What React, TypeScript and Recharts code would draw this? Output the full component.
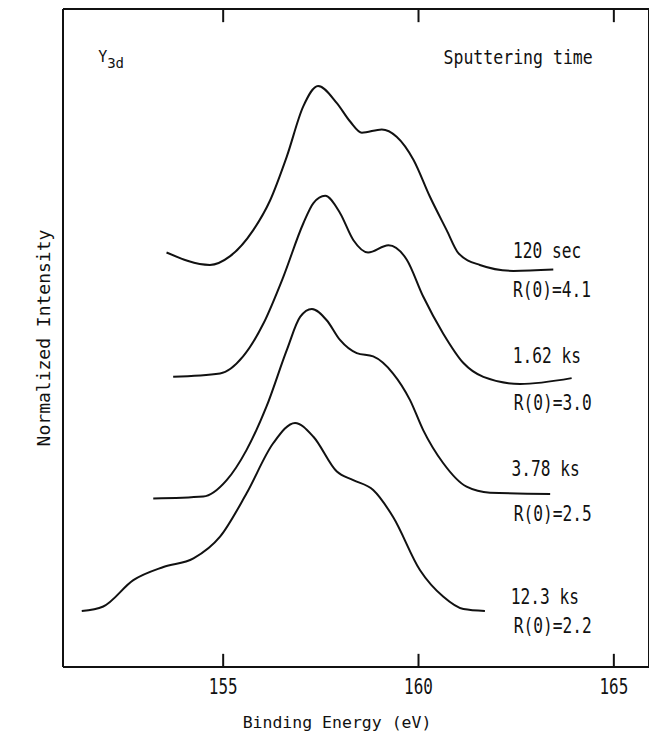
import { LineChart, Line, XAxis, YAxis, ReferenceDot, ReferenceLine } from 'recharts';

// Y 3d XPS spectra after different sputtering times (eV vs normalized intensity, offset)
const E_120S = [153.55, 154.66, 155.17, 155.77, 156.2, 156.63, 157.05, 157.43, 157.91, 158.25, 158.55, 159.06, 159.44, 159.87, 160.29, 160.72, 161.02, 161.57, 162.43, 163.45];
const I_120S = [63.0, 61.1, 62.4, 66.4, 70.9, 77.6, 85.2, 88.3, 85.7, 82.9, 81.2, 81.7, 80.6, 77.1, 71.5, 66.4, 62.9, 61.1, 60.2, 60.4];

const E_162 = [153.72, 154.92, 155.51, 156.03, 156.54, 157.05, 157.31, 157.61, 157.99, 158.33, 158.71, 159.23, 159.7, 160.12, 160.63, 161.15, 161.66, 162.6, 163.92];
const I_162 = [44.1, 44.6, 47.2, 52.2, 59.3, 67.4, 70.5, 71.6, 69.0, 64.9, 63.0, 64.1, 61.9, 56.3, 50.7, 46.2, 44.1, 43.0, 43.9];

const E_378 = [153.21, 154.49, 155.09, 155.6, 156.11, 156.63, 156.97, 157.27, 157.65, 157.99, 158.42, 158.84, 159.35, 159.78, 160.12, 160.63, 161.23, 161.83, 163.37];
const I_378 = [25.6, 25.9, 28.4, 33.0, 39.6, 48.2, 53.2, 54.4, 52.7, 49.7, 47.7, 47.2, 44.6, 40.6, 36.0, 31.0, 27.4, 26.5, 26.3];

const E_123 = [151.38, 151.93, 152.7, 153.47, 154.24, 154.92, 155.6, 156.28, 156.84, 157.31, 157.91, 158.33, 158.84, 159.35, 160.04, 160.63, 161.15, 161.7];
const I_123 = [8.5, 9.2, 13.2, 15.2, 16.5, 19.8, 26.4, 34.0, 37.1, 35.0, 29.7, 28.4, 26.9, 22.8, 14.7, 10.7, 8.8, 8.5];

const X_TICKS = [155, 160, 165];
const X_DOMAIN: [number, number] = [150.9, 165.9];
const TICK_LEN = 2; // inward tick length, in intensity units

const zip = (e: number[], v: number[]) => e.map((x, i) => ({ e: x, v: v[i] }));
const curves = [zip(E_120S, I_120S), zip(E_162, I_162), zip(E_378, I_378), zip(E_123, I_123)];

const MONO = '"DejaVu Sans Mono", "Liberation Mono", monospace';
const INK = '#111';

// squeezed monospace text, to mimic the narrow typewriter face of the original
const tag = (text: string, size: number, sx: number, anchor: 'start' | 'middle' = 'start', base: 'central' | 'alphabetic' = 'central') => (props: any) => {
  const { x, y } = props.viewBox;
  return (
    <text transform={`translate(${x},${y}) scale(${sx},1)`} fontFamily={MONO} fontSize={size} textAnchor={anchor} dominantBaseline={base} fill={INK}>
      {text}
    </text>
  );
};

const BottomTick = ({ x, y, payload }: any) => (
  <text transform={`translate(${x},${y + 26.5}) scale(0.76,1)`} fontFamily={MONO} fontSize={21} textAnchor="middle" fill={INK}>
    {payload.value}
  </text>
);

const XTitle = (props: any) => {
  const { x, y, width } = props.viewBox;
  return (
    <text x={x + width / 2 - 19} y={y + 60.5} fontFamily={MONO} fontSize={16.5} textAnchor="middle" fill={INK}>
      Binding Energy (eV)
    </text>
  );
};

const YTitle = (props: any) => {
  const { y, height } = props.viewBox;
  const cy = y + height / 2;
  return (
    <text transform={`translate(35,${cy}) rotate(-90)`} fontFamily={MONO} fontSize={18} textAnchor="middle" dominantBaseline="central" fill={INK}>
      Normalized Intensity
    </text>
  );
};

const Species = (props: any) => {
  const { x, y } = props.viewBox;
  return (
    <text x={x} y={y} fontFamily={MONO} fontSize={15} fill={INK}>
      Y
      <tspan dy={6} fontSize={14}>3d</tspan>
    </text>
  );
};

const axisStyle = { stroke: INK, strokeWidth: 2 };

export default function App() {
  return (
    <LineChart width={649} height={723} margin={{ top: 0, right: 0, bottom: 0, left: 0 }}>
      <XAxis
        dataKey="e"
        type="number"
        domain={X_DOMAIN}
        ticks={X_TICKS}
        allowDataOverflow
        height={64}
        axisLine={axisStyle}
        tickLine={false}
        tickSize={0}
        tickMargin={0}
        tick={<BottomTick />}
        label={{ content: XTitle }}
      />
      <XAxis
        xAxisId="top"
        orientation="top"
        type="number"
        domain={X_DOMAIN}
        ticks={X_TICKS}
        allowDataOverflow
        height={1}
        axisLine={axisStyle}
        tickLine={false}
        tick={false}
      />
      <YAxis type="number" domain={[0, 100]} width={55} axisLine={axisStyle} tick={false} tickLine={false} label={{ content: YTitle }} />
      <YAxis yAxisId="r" orientation="right" type="number" domain={[0, 100]} width={8} axisLine={axisStyle} tick={false} tickLine={false} />

      {X_TICKS.map((t) => (
        <ReferenceLine key={`b${t}`} segment={[{ x: t, y: 0 }, { x: t, y: TICK_LEN }]} stroke={INK} strokeWidth={2} />
      ))}
      {X_TICKS.map((t) => (
        <ReferenceLine key={`t${t}`} segment={[{ x: t, y: 100 }, { x: t, y: 100 - TICK_LEN }]} stroke={INK} strokeWidth={2} />
      ))}

      {curves.map((d, i) => (
        <Line key={i} data={d} dataKey="v" type="monotone" stroke={INK} strokeWidth={2} dot={false} isAnimationActive={false} />
      ))}

      <ReferenceDot x={151.8} y={91.9} r={0} label={{ content: Species }} />
      <ReferenceDot x={162.55} y={91.6} r={0} label={{ content: tag('Sputtering time', 19, 0.87, 'middle', 'alphabetic') }} />

      <ReferenceDot x={162.42} y={63.2} r={0} label={{ content: tag('120 sec', 20.5, 0.79) }} />
      <ReferenceDot x={162.42} y={57.4} r={0} label={{ content: tag('R(0)=4.1', 20.5, 0.79) }} />
      <ReferenceDot x={162.41} y={47.3} r={0} label={{ content: tag('1.62 ks', 20.5, 0.79) }} />
      <ReferenceDot x={162.44} y={40.2} r={0} label={{ content: tag('R(0)=3.0', 20.5, 0.79) }} />
      <ReferenceDot x={162.38} y={30.1} r={0} label={{ content: tag('3.78 ks', 20.5, 0.79) }} />
      <ReferenceDot x={162.44} y={23.3} r={0} label={{ content: tag('R(0)=2.5', 20.5, 0.79) }} />
      <ReferenceDot x={162.36} y={10.6} r={0} label={{ content: tag('12.3 ks', 20.5, 0.79) }} />
      <ReferenceDot x={162.44} y={6.2} r={0} label={{ content: tag('R(0)=2.2', 20.5, 0.79) }} />
    </LineChart>
  );
}
